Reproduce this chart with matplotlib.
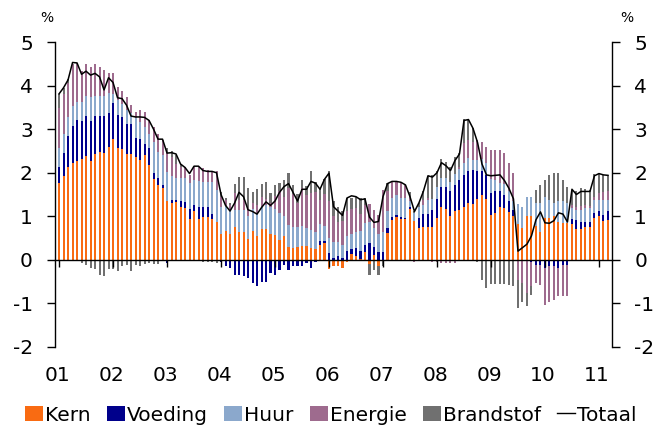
import numpy as np
import matplotlib
matplotlib.use('Agg')
import matplotlib.pyplot as plt
from matplotlib.patches import Patch
from matplotlib.lines import Line2D

plt.rcParams['font.family'] = 'DejaVu Sans'
plt.rcParams['axes.unicode_minus'] = False

# monthly data, Jan 2001 - Mar 2011 (% contribution)
years = ['01', '02', '03', '04', '05', '06', '07', '08', '09', '10', '11']

kern = [1.77, 1.93, 2.12, 2.23, 2.28, 2.31, 2.39, 2.27, 2.43, 2.48, 2.46, 2.60,
        2.78, 2.56, 2.55, 2.42, 2.43, 2.35, 2.29, 2.41, 2.18, 1.86, 1.72, 1.64,
        1.36, 1.31, 1.33, 1.21, 1.20, 0.93, 1.11, 0.93, 0.98, 0.98, 0.93, 0.86,
        0.59, 0.66, 0.59, 0.75, 0.64, 0.63, 0.47, 0.66, 0.55, 0.70, 0.70, 0.59,
        0.57, 0.46, 0.55, 0.29, 0.27, 0.29, 0.32, 0.31, 0.27, 0.24, 0.34, 0.38,
        -0.20, -0.15, -0.14, -0.19, -0.06, 0.14, 0.09, 0.02, 0.17, -0.09, 0.10, -0.14,
        0.00, 0.62, 0.92, 0.98, 0.93, 0.93, 1.17, 0.90, 0.74, 0.75, 0.75, 0.76,
        0.96, 1.21, 1.16, 1.01, 1.11, 1.15, 1.21, 1.30, 1.28, 1.39, 1.49, 1.39,
        1.03, 1.07, 1.21, 1.19, 1.09, 1.00, 0.83, 0.74, 1.00, 1.00, 0.78, 0.65,
        0.95, 0.95, 1.00, 0.88, 0.84, 0.84, 0.83, 0.70, 0.70, 0.75, 0.75, 0.95,
        1.00, 0.90, 0.92]

voeding = [0.37, 0.53, 0.72, 0.85, 0.92, 0.87, 0.91, 0.91, 0.87, 0.82, 0.84, 0.78,
           0.83, 0.77, 0.74, 0.69, 0.68, 0.44, 0.48, 0.24, 0.38, 0.14, 0.15, 0.08,
           -0.07, 0.07, 0.05, 0.13, 0.12, 0.23, 0.15, 0.28, 0.24, 0.24, 0.13, 0.00,
           -0.05, -0.15, -0.19, -0.34, -0.34, -0.36, -0.42, -0.54, -0.61, -0.50, -0.50, -0.31,
           -0.34, -0.23, -0.11, -0.23, -0.15, -0.15, -0.15, -0.08, -0.19, -0.05, 0.10, 0.05,
           0.15, 0.05, 0.08, 0.05, 0.21, 0.10, 0.18, 0.19, 0.17, 0.38, 0.20, 0.19,
           0.19, 0.10, 0.06, 0.05, 0.05, 0.04, 0.05, 0.00, 0.23, 0.31, 0.31, 0.38,
           0.43, 0.46, 0.51, 0.58, 0.61, 0.68, 0.74, 0.74, 0.78, 0.66, 0.56, 0.56,
           0.50, 0.52, 0.38, 0.30, 0.25, 0.15, 0.00, 0.00, 0.00, -0.05, -0.11, -0.11,
           -0.19, -0.15, -0.13, -0.19, -0.11, -0.11, 0.10, 0.22, 0.18, 0.13, 0.13, 0.12,
           0.11, 0.13, 0.19]

huur = [0.42, 0.44, 0.43, 0.45, 0.43, 0.45, 0.45, 0.56, 0.45, 0.45, 0.45, 0.44,
        0.20, 0.34, 0.29, 0.33, 0.25, 0.46, 0.40, 0.41, 0.34, 0.71, 0.61, 0.69,
        0.65, 0.55, 0.49, 0.53, 0.55, 0.60, 0.57, 0.61, 0.57, 0.57, 0.72, 0.74,
        0.63, 0.58, 0.56, 0.40, 0.51, 0.52, 0.53, 0.50, 0.53, 0.52, 0.56, 0.63,
        0.59, 0.61, 0.45, 0.50, 0.49, 0.47, 0.45, 0.42, 0.42, 0.40, 0.38, 0.35,
        0.35, 0.35, 0.32, 0.30, 0.34, 0.35, 0.36, 0.45, 0.50, 0.50, 0.44, 0.40,
        0.46, 0.40, 0.45, 0.45, 0.45, 0.45, 0.13, 0.17, 0.24, 0.21, 0.31, 0.25,
        0.29, 0.20, 0.22, 0.20, 0.25, 0.25, 0.28, 0.29, 0.23, 0.25, 0.26, 0.27,
        0.32, 0.24, 0.18, 0.25, 0.25, 0.19, 0.46, 0.48, 0.45, 0.45, 0.52, 0.65,
        0.50, 0.43, 0.30, 0.46, 0.50, 0.46, 0.25, 0.23, 0.27, 0.30, 0.30, 0.31,
        0.27, 0.35, 0.27]

energie = [0.92, 0.90, 0.78, 0.97, 0.88, 0.70, 0.75, 0.69, 0.75, 0.68, 0.61, 0.46,
           0.47, 0.30, 0.30, 0.30, 0.20, 0.15, 0.27, 0.34, 0.30, 0.35, 0.40, 0.35,
           0.45, 0.44, 0.34, 0.27, 0.25, 0.19, 0.31, 0.30, 0.31, 0.27, 0.27, 0.45,
           0.23, 0.14, 0.10, 0.38, 0.23, 0.22, 0.20, 0.14, 0.17, 0.23, 0.14, 0.08,
           0.30, 0.50, 0.45, 0.85, 0.75, 0.55, 0.88, 0.75, 0.85, 0.91, 0.55, 0.73,
           0.85, 0.60, 0.48, 0.54, 0.56, 0.57, 0.55, 0.40, 0.43, 0.40, 0.40, 0.45,
           0.95, 0.45, 0.35, 0.32, 0.35, 0.30, 0.10, -0.05, 0.00, 0.10, 0.05, -0.05,
           -0.05, -0.08, -0.08, -0.08, -0.08, 0.05, 0.45, 0.42, 0.42, 0.45, 0.40, 0.38,
           0.67, 0.68, 0.75, 0.71, 0.63, 0.66, -0.46, -0.54, -0.76, -0.54, -0.43, -0.46,
           -0.84, -0.81, -0.79, -0.65, -0.73, -0.73, 0.08, 0.07, 0.08, 0.08, 0.06, 0.07,
           0.15, 0.17, 0.19]

brandstof = [0.33, 0.15, 0.10, 0.00, 0.00, -0.08, -0.12, -0.18, -0.22, -0.34, -0.36, -0.22,
             -0.20, -0.25, -0.15, -0.12, -0.25, -0.12, -0.15, -0.10, -0.08, -0.10, -0.10, 0.00,
             0.10, 0.12, 0.20, 0.05, 0.00, 0.00, 0.00, 0.00, -0.05, -0.05, -0.05, -0.08,
             0.10, 0.05, 0.05, 0.20, 0.53, 0.54, 0.44, 0.26, 0.37, 0.30, 0.39, 0.23,
             0.25, 0.20, 0.39, 0.35, 0.20, 0.20, 0.19, 0.22, 0.49, 0.24, 0.25, 0.35,
             0.70, 0.35, 0.34, 0.22, 0.30, 0.27, 0.27, 0.35, 0.15, -0.25, -0.23, -0.20,
             -0.15, 0.20, 0.00, 0.00, 0.00, 0.00, 0.10, 0.05, 0.10, 0.20, 0.50, 0.55,
             0.37, 0.44, 0.35, 0.34, 0.39, 0.33, 0.55, 0.48, 0.31, -0.05, -0.46, -0.65,
             -0.55, -0.56, -0.55, -0.55, -0.57, -0.61, -0.64, -0.42, -0.31, -0.22, 0.30, 0.42,
             0.38, 0.57, 0.69, 0.65, 0.49, 0.38, 0.31, 0.35, 0.41, 0.36, 0.36, 0.52,
             0.44, 0.40, 0.38]

totaal = [3.81, 3.95, 4.13, 4.53, 4.52, 4.26, 4.33, 4.24, 4.28, 4.20, 3.90, 4.18,
          4.07, 3.72, 3.70, 3.55, 3.30, 3.28, 3.28, 3.27, 3.20, 3.00, 2.77, 2.77,
          2.45, 2.46, 2.43, 2.20, 2.12, 1.98, 2.15, 2.15, 2.05, 2.03, 2.03, 2.00,
          1.50, 1.25, 1.12, 1.30, 1.55, 1.45, 1.15, 1.11, 1.05, 1.20, 1.33, 1.25,
          1.35, 1.55, 1.68, 1.75, 1.55, 1.35, 1.62, 1.62, 1.80, 1.76, 1.62, 1.85,
          1.99, 1.22, 1.12, 1.02, 1.42, 1.47, 1.45, 1.38, 1.40, 0.98, 0.86, 0.88,
          1.45, 1.75, 1.80, 1.80, 1.78, 1.72, 1.45, 1.11, 1.31, 1.58, 1.93, 1.90,
          2.00, 2.23, 2.16, 2.05, 2.28, 2.43, 3.20, 3.22, 3.02, 2.70, 2.20, 1.95,
          1.93, 1.94, 1.95, 1.82, 1.64, 1.40, 0.20, 0.28, 0.36, 0.55, 0.92, 1.10,
          0.85, 0.84, 0.90, 1.08, 1.05, 0.87, 1.62, 1.50, 1.57, 1.57, 1.57, 1.93,
          1.98, 1.95, 1.94]

series = [('Kern', kern, '#F96B12'),
          ('Voeding', voeding, '#00008B'),
          ('Huur', huur, '#8BA8CC'),
          ('Energie', energie, '#9E6B8E'),
          ('Brandstof', brandstof, '#707070')]

fig = plt.figure(figsize=(6.61, 4.28), dpi=100)
ax = fig.add_axes([55 / 661, 1 - 347 / 428, (612 - 55) / 661, (347 - 42) / 428])

n = len(totaal)
x = np.arange(n)

# stack positives upwards and negatives downwards
pos_base = np.zeros(n)
neg_base = np.zeros(n)
for name, vals, col in series:
    v = np.array(vals)
    bottom = np.where(v >= 0, pos_base, neg_base)
    ax.bar(x, v, width=0.45, bottom=bottom, color=col, linewidth=0)
    pos_base += np.clip(v, 0, None)
    neg_base += np.clip(v, None, 0)

ax.plot(x, totaal, color='black', lw=1.1)

ax.set_xlim(-0.9, 122.9)
ax.set_ylim(-2, 5)

# axes styling
ax.spines['top'].set_visible(False)
ax.spines['bottom'].set_position(('data', 0))
for s in ['left', 'right', 'bottom']:
    ax.spines[s].set_linewidth(1.0)
    ax.spines[s].set_color('black')

ax.set_yticks(range(-2, 6))
ax.tick_params(axis='y', left=True, right=True, labelleft=True, labelright=True,
               direction='out', length=6, width=1, pad=10, labelsize=14.5)

ax.set_xticks(np.arange(0, n, 12))
ax.set_xticklabels([])
ax.tick_params(axis='x', direction='out', length=5, width=1)

for k, yr in enumerate(years):
    ax.text(12 * k - 0.4, -0.092, yr, transform=ax.get_xaxis_transform(),
            ha='center', va='center', fontsize=14.5)

fig.text(47 / 661, 1 - 18 / 428, '%', ha='center', va='center', fontsize=10)
fig.text(627 / 661, 1 - 18 / 428, '%', ha='center', va='center', fontsize=10)

# legend at the bottom
handles = [Patch(facecolor=c, edgecolor='none') for _, _, c in series]
handles.append(Line2D([0], [0], color='black', lw=1))
labels = [s[0] for s in series] + ['Totaal']
fig.legend(handles, labels, loc='center left', bbox_to_anchor=(25 / 661, 0.03),
           ncol=6, frameon=False, fontsize=14.5, handlelength=0.9, handleheight=0.75,
           handletextpad=0.1, columnspacing=0.8, borderpad=0, borderaxespad=0)

fig.savefig('out.png', dpi=100)
